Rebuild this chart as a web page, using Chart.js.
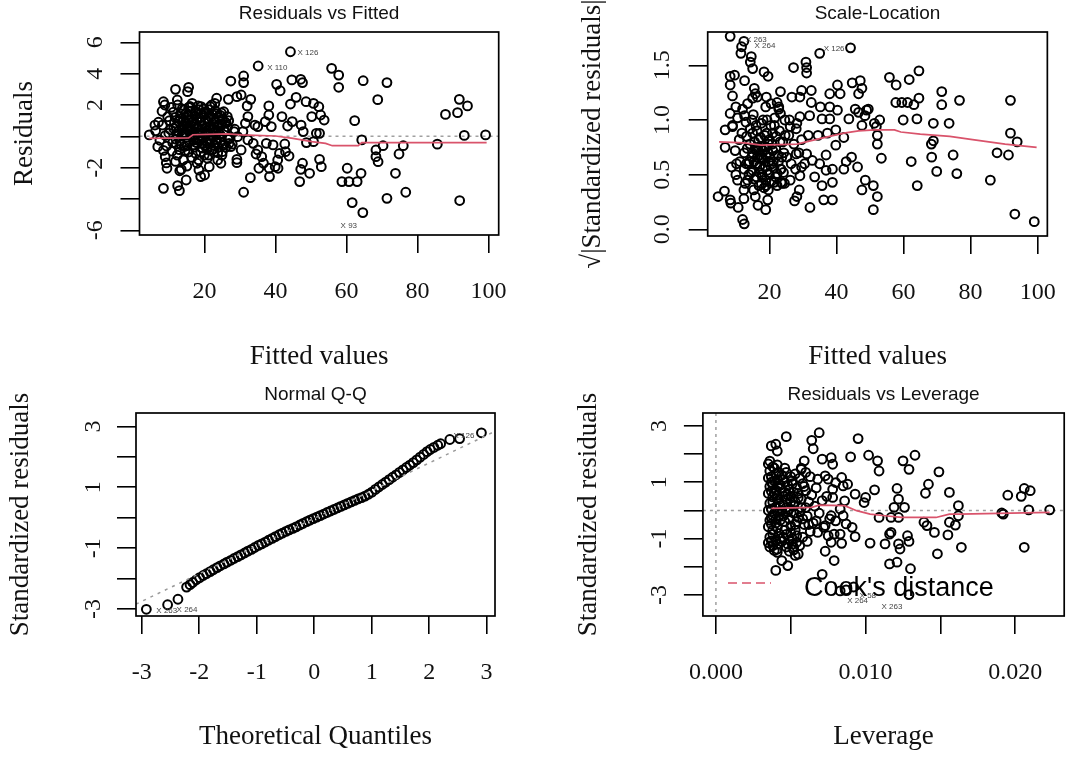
<!DOCTYPE html>
<html>
<head>
<meta charset="utf-8">
<script src="https://cdn.jsdelivr.net/npm/chart.js@4.4.0/dist/chart.umd.min.js"></script>
<style>
  body { margin: 0; background: #fff; width: 1080px; height: 758px; overflow: hidden; position: relative; }
  canvas { position: absolute; }
</style>
</head>
<body>
<canvas id="rvf" width="540" height="380" style="left:0;top:0"></canvas>
<canvas id="sl" width="540" height="380" style="left:540px;top:0"></canvas>
<canvas id="qq" width="540" height="378" style="left:0;top:380px"></canvas>
<canvas id="rvl" width="540" height="378" style="left:540px;top:380px"></canvas>
<script>
// --- Residuals vs Fitted: [fitted, residual] ---
const rvfPoints = [
  [44.2,5.4],[35.1,4.49],[55.8,4.34],[57.8,3.91],[57.8,3.13],[64.7,3.55],[71.4,3.43],[68.8,2.34],[62.3,1.0],[64.3,-0.23],
  [85.6,-0.5],[87.9,1.4],[91.8,2.36],[91.3,1.51],[94.1,1.94],[93.2,0.06],[99.2,0.09],[91.9,-4.1],[71.4,-3.96],[76.7,-3.57],
  [73.8,-2.36],[74.8,-1.13],[76.0,-0.6],[70.3,-0.6],[68.3,-0.87],[68.3,-1.3],[68.9,-1.62],[60.2,-2.04],[58.7,-2.89],[60.7,-2.89],
  [63.0,-2.89],[64.1,-2.36],[61.6,-4.23],[64.6,-4.87],
  [31.0,3.85],[31.0,3.43],[27.4,3.53],[26.7,2.36],[29.1,2.53],[30.3,2.64],[33.0,2.36],[32.0,1.94],[32.2,1.26],[31.5,0.83],
  [30.8,0.30],[38.1,1.94],[38.1,1.36],[37.1,0.94],[38.8,0.62],[35.0,0.62],[34.2,0.72],[40.3,3.32],[41.3,2.91],[44.6,3.6],
  [47.1,3.64],[47.6,3.43],[45.8,2.49],[44.2,2.06],[48.6,2.21],[50.7,2.1],[52.2,1.89],[52.7,1.36],[53.7,1.04],[50.2,1.26],
  [47.2,0.72],[44.7,0.94],[43.4,0.66],[41.8,1.26],[47.8,0.30],[51.5,0.19],[52.4,0.19],[50.7,-0.34],[48.7,-0.40],[52.4,-1.47],
  [52.9,-1.94],[47.6,-1.72],[47.1,-2.11],[49.6,-2.36],[46.8,-2.89],[42.6,-0.49],[42.8,-0.98],[43.8,-1.26],[41.1,-1.09],[40.6,-1.51],
  [39.9,-1.94],[38.2,-2.04],[38.3,-2.57],[40.7,-2.04],[39.3,-0.55],[37.4,-0.45],[35.0,-0.87],[34.5,-1.13],[36.1,-1.3],[36.6,-1.72],
  [35.3,-2.04],[32.9,-2.64],[31.0,-3.57],[33.7,-0.45],[32.2,-0.23],[30.3,-0.87],[29.1,-1.47],[29.1,-1.68],[29.3,-0.02],[28.3,0.30],
  [26.9,-0.45],[27.4,-0.66],
  [4.4,0.09],[6.0,0.72],[6.8,-0.66],[8.4,2.21],[8.8,2.0],[8.4,-3.32],[9.4,-2.04],[8.9,-1.3],[11.8,3.0],[12.3,2.32],
  [15.5,3.13],[15.2,2.85],[12.4,-3.15],[12.9,-3.47],[14.8,-2.79],[13.4,-2.11],[16.0,1.89],[17.9,-1.72],[18.4,-2.15],[18.9,-2.57],
  [20.0,-2.47],[21.3,-1.94],[20.8,-1.4],[23.4,2.43],[22.9,2.1],[23.7,-1.51],[24.6,-1.72],[25.0,-0.98],[26.4,1.26],[25.4,1.57],
  [6.2,0.35],[7.4,-0.25],[8.1,0.72],[8.9,0.05],[9.6,1.25],[9.3,-0.62],[10.4,0.42],[10.8,-0.95],[11.2,1.55],[11.5,0.85],
  [11.9,-0.18],[12.3,-1.2],[12.6,0.3],[13.1,1.1],[13.4,-0.55],[13.8,0.65],[14.2,1.7],[14.5,-0.9],[14.9,0.1],[15.3,1.35],
  [15.6,-0.3],[16.0,0.55],[16.4,-1.35],[16.7,0.95],[17.1,-0.7],[17.4,1.6],[17.8,0.25],[18.1,-0.15],[18.5,1.15],[18.9,-1.0],
  [19.2,0.7],[19.6,-0.45],[20.0,1.45],[20.3,0.15],[20.7,-0.8],[21.1,0.9],[21.5,-0.25],[21.8,1.25],[22.2,0.45],[22.6,-0.6],
  [23.0,1.65],[23.4,0.2],[23.7,-1.05],[24.1,0.8],[24.6,-0.35],[25.0,1.1],[25.5,0.4],[26.0,-0.7],[26.5,0.6],[27.2,-0.1],
  [7.0,0.9],[8.4,-0.9],[9.9,0.2],[10.1,1.0],[11.0,-0.4],[12.0,0.6],[12.9,-0.85],[13.6,0.05],[14.0,-1.5],[14.7,0.8],
  [15.1,-0.6],[15.8,1.9],[16.2,0.1],[16.9,-0.25],[17.6,0.5],[18.3,-1.5],[18.7,0.95],[19.4,0.3],[19.9,-1.2],[20.5,0.6],
  [21.3,1.7],[21.9,-0.9],[22.4,0.05],[23.2,-0.4],[24.3,1.35],[24.9,-1.2],[25.8,0.9],[26.8,1.0],[27.8,-0.5],[28.5,0.45],
  [8.0,1.6],[10.6,1.85],[12.4,2.0],[9.2,-1.7],[11.8,-1.6],[22.0,2.0],[19.0,1.9],[16.5,2.1],[15.0,-1.9],[13.0,-2.2],
  [11.3,0.5],[11.7,1.2],[12.2,0.15],[12.7,0.95],[13.2,1.45],[13.6,0.4],[14.1,1.05],[14.4,0.25],[14.8,1.5],[15.2,0.7],
  [15.5,1.85],[15.9,0.3],[16.3,1.25],[16.6,-0.05],[17.0,0.75],[17.3,1.3],[17.7,-0.4],[18.0,0.6],[18.4,1.7],[18.8,0.2],
  [19.1,1.2],[19.5,-0.1],[19.9,0.85],[20.2,1.55],[20.6,0.35],[21.0,1.15],[21.4,-0.5],[21.7,0.65],[22.1,1.4],[22.5,0.25],
  [22.9,0.95],[23.3,-0.2],[23.6,0.55],[24.0,1.2],[24.4,0.1],[24.8,0.75],[25.2,-0.55],[25.6,0.3],[26.1,0.85],[26.6,-0.2],
  [12.0,-0.5],[13.0,-0.3],[14.3,-0.65],[15.5,-1.0],[16.8,-0.55],[17.5,-1.1],[18.6,-0.3],[19.3,-0.75],[20.4,-0.35],[21.2,-1.2],
  [22.3,-0.85],[23.9,-0.7],[24.2,-0.1],[13.7,1.75],[16.1,1.6],[18.2,1.95],[19.7,1.75],[21.6,1.9],[23.5,1.45],[17.2,0.05],
  [15.0,0.45],[20.9,0.2],[22.8,0.6],[14.6,0.9],[19.0,0.45],[14.0,0.15],[16.4,0.4],[18.9,1.45],[21.3,0.45],[23.9,0.35],
  [17.8,1.1],[20.1,-0.6],[15.7,1.05],[22.6,1.15],[24.7,1.5]
];
const rvfSmoothX = [4.4, 15.5, 16.7, 26.4, 30.3, 40.0, 44.9, 50.2, 54.1, 56.0, 63.3, 64.3, 99.5];
const rvfSmoothY = [-0.13, -0.1, 0.1, 0.15, 0.09, 0.02, -0.13, -0.34, -0.45, -0.6, -0.6, -0.4, -0.4];
const rvfMarkX = [44.2, 35.1, 64.6];
const rvfMarkY = [5.4, 4.49, -4.87];
const rvfMarkText = ['X 126', 'X 110', 'X 93'];

// --- Scale-Location: [fitted, sqrt|std residual|] ---
const slPoints = [
  [8.3,1.765],[12.4,1.72],[11.7,1.67],[11.5,1.61],[14.6,1.58],[14.3,1.53],[15.0,1.47],[18.4,1.44],[19.6,1.40],[8.3,1.40],
  [9.6,1.41],[8.3,1.32],[12.6,1.36],[9.0,1.22],[10.0,1.12],[8.3,1.06],[12.6,1.04],[15.5,1.29],[15.8,1.24],[15.0,1.20],
  [16.4,1.21],[19.1,1.21],[23.3,1.26],[22.3,1.16],[22.8,1.12],[26.7,1.21],[29.6,1.27],[32.5,1.27],[29.1,1.21],[27.2,1.48],
  [30.9,1.53],[31.1,1.48],[31.1,1.43],[35.0,1.61],[44.2,1.66],[32.5,1.16],[35.2,1.12],[38.0,1.24],[40.3,1.32],[41.1,1.24],
  [38.0,1.12],[40.3,1.09],[35.7,1.01],[38.0,1.01],[32.0,1.04],[29.1,1.03],[28.2,0.97],[26.2,0.94],[23.3,1.06],[44.7,1.34],
  [47.1,1.36],[46.6,1.24],[47.6,1.29],[45.6,1.10],[46.6,1.07],[49.0,1.09],[49.5,1.10],[48.5,1.04],[43.7,1.01],[47.6,0.95],
  [51.3,0.97],[52.9,1.00],[51.9,0.94],[52.2,0.86],[52.2,0.78],[53.4,0.65],[55.8,1.39],[57.8,1.32],[61.7,1.37],[64.6,1.45],
  [64.6,1.20],[57.7,1.16],[59.5,1.16],[61.2,1.16],[63.1,1.14],[59.9,1.00],[64.0,1.01],[62.3,0.62],[64.1,0.40],[71.4,1.26],
  [71.4,1.14],[76.7,1.18],[68.9,0.97],[73.6,0.97],[68.9,0.81],[68.3,0.78],[68.4,0.66],[69.9,0.53],[74.8,0.68],[75.9,0.51],
  [85.9,0.45],[87.9,0.70],[91.3,0.68],[91.9,1.18],[91.9,0.88],[93.9,0.80],[93.2,0.14],[99.0,0.07],[51.0,0.40],[48.6,0.45],
  [47.6,0.36],[52.2,0.30],[51.0,0.18],[46.3,0.57],[44.5,0.66],[42.9,0.62],[42.2,0.55],[38.8,0.43],[38.8,0.27],[36.2,0.27],
  [35.7,0.40],[36.9,0.54],[38.8,0.55],[36.9,0.68],[37.3,0.88],[39.8,0.91],[39.8,0.77],[42.2,0.84],[33.5,0.48],[32.1,0.20],
  [28.9,0.36],[28.2,0.30],[27.5,0.26],[29.1,0.49],[29.6,0.57],[28.0,0.69],[31.1,0.69],[32.8,0.63],[35.0,0.60],[31.6,0.86],
  [34.5,0.86],[24.5,0.42],[26.2,0.45],[23.5,0.43],[19.7,0.36],[18.9,0.18],[19.5,0.27],[16.6,0.22],[15.8,0.30],[12.4,0.28],
  [12.4,0.36],[12.0,0.09],[12.5,0.05],[10.7,0.20],[8.5,0.24],[8.3,0.27],[6.6,0.35],[4.7,0.30],[10.5,0.45],[10.2,0.60],
  [8.7,0.57],[13.1,0.60],[6.8,0.75],[6.8,0.91],[9.0,0.94],[15.0,0.54],[17.9,0.48],[19.0,0.40],[21.4,0.43],[22.3,0.51],
  [23.3,0.55],
  [9.0,0.95],[9.8,0.72],[10.5,1.02],[11.2,0.62],[11.8,0.88],[12.5,0.55],[13.0,0.98],[13.4,0.74],[13.9,0.5],[14.3,0.92],
  [14.8,0.66],[15.2,1.05],[15.6,0.8],[16.0,0.6],[16.3,0.9],[16.7,0.72],[17.0,0.52],[17.4,0.84],[17.8,0.65],[18.1,1.0],
  [18.5,0.76],[18.8,0.58],[19.2,0.88],[19.6,0.7],[20.0,0.5],[20.4,0.95],[20.8,0.78],[21.2,0.62],[21.6,1.02],[22.0,0.85],
  [22.5,0.68],[23.0,0.9],[23.5,0.55],[24.0,0.8],[24.6,1.0],[25.2,0.66],[25.8,0.86],[26.5,0.6],[27.3,0.78],[28.0,0.92],
  [28.8,0.7],[29.6,0.82],[30.5,0.6],[15.0,0.7],[16.5,0.75],[17.2,0.68],[18.0,0.72],[14.0,0.62],[19.8,0.62],[21.0,0.72],
  [12.0,1.1],[13.5,1.15],[11.0,0.82],[10.0,0.5],[22.8,1.1],[20.5,1.15],[18.9,1.12],[17.6,0.42],[19.0,0.45],[21.8,0.48],
  [23.8,0.42],[12.8,0.42],[15.5,0.46],[26.0,1.0],[27.8,0.55],[24.3,0.7],
  [12.5,0.7],[13.2,0.85],[13.8,0.6],[14.2,0.78],[14.6,0.52],[15.0,0.88],[15.4,0.62],[15.8,0.74],[16.1,0.48],[16.4,0.66],
  [16.8,0.82],[17.1,0.58],[17.5,0.76],[17.8,0.5],[18.2,0.64],[18.6,0.86],[19.0,0.68],[19.4,0.54],[19.7,0.78],[20.2,0.66],
  [20.6,0.44],[21.0,0.88],[21.4,0.56],[21.9,0.74],[22.3,0.4],[22.7,0.62],[23.2,0.8],[23.7,0.66],[24.2,0.52],[24.7,0.86],
  [16.0,0.95],[17.6,0.97],[19.3,1.0],[14.8,1.0],[16.9,0.4],[18.4,0.38],[20.0,0.82],[15.3,0.36],[13.5,0.45],[21.5,0.95],
  [17.0,0.65],[18.0,0.55],[19.0,0.75],[16.2,0.72],[20.8,0.6]
];
const slSmoothX = [5.0, 12.6, 17.5, 28.2, 35.0, 42.2, 46.6, 51.5, 57.3, 59.2, 65.0, 73.8, 80.6, 90.3, 99.7];
const slSmoothY = [0.80, 0.79, 0.77, 0.78, 0.83, 0.88, 0.90, 0.91, 0.91, 0.89, 0.87, 0.85, 0.82, 0.78, 0.75];
const slMarkX = [12.4, 11.7, 44.2];
const slMarkY = [1.72, 1.67, 1.66];
const slMarkText = ['X 263', 'X 264', 'X 126'];

// --- Normal Q-Q ---
const qqTheoretical = [-2.92,-2.55,-2.37,-2.22,-2.16,-2.113,-2.05,-1.993,-1.93,-1.874,-1.81,-1.754,-1.69,-1.634,-1.57,
  -1.514,-1.45,-1.394,-1.33,-1.274,-1.21,-1.154,-1.09,-1.034,-0.97,-0.914,-0.85,-0.794,-0.73,-0.674,-0.61,-0.555,-0.49,-0.435,
  -0.37,-0.315,-0.25,-0.195,-0.13,-0.075,-0.015,0.045,0.105,0.165,0.225,0.285,0.345,0.405,0.465,0.525,0.585,0.644,0.705,0.764,
  0.825,0.884,0.945,1.004,1.065,1.124,1.185,1.244,1.305,1.364,1.425,1.484,1.545,1.604,1.665,1.724,1.785,1.844,1.905,1.964,
  2.02,2.083,2.15,2.20,2.36,2.53,2.91];
const qqStdResid = [-3.01,-2.86,-2.68,-2.28,-2.20,-2.13,-2.04,-1.97,-1.90,-1.84,-1.77,-1.71,-1.64,-1.58,-1.52,
  -1.46,-1.40,-1.34,-1.28,-1.22,-1.16,-1.10,-1.04,-0.98,-0.91,-0.86,-0.80,-0.74,-0.68,-0.62,-0.56,-0.51,-0.45,-0.40,
  -0.35,-0.30,-0.24,-0.19,-0.13,-0.08,-0.03,0.02,0.07,0.12,0.17,0.22,0.27,0.32,0.37,0.42,0.47,0.52,0.57,0.62,
  0.66,0.71,0.77,0.84,0.93,1.01,1.09,1.17,1.25,1.33,1.41,1.49,1.57,1.65,1.73,1.81,1.90,1.99,2.08,2.17,
  2.24,2.31,2.38,2.43,2.57,2.60,2.79];
const qqLineX = [-3.10, 3.146];
const qqLineY = [-2.84, 2.84];
const qqMarkX = [-2.92, -2.55, 2.91];
const qqMarkY = [-3.01, -2.86, 2.79];
const qqMarkText = ['X 263', 'X 264', 'X 126'];

// --- Residuals vs Leverage: [leverage, std residual] ---
const rvlPoints = [
  [0.0040,-2.13],[0.0037,2.29],[0.0040,2.35],[0.0041,2.11],[0.0047,2.62],[0.0048,-1.96],[0.0044,-1.78],[0.0041,-1.49],[0.0053,-1.6],[0.0052,-1.31],
  [0.0054,-1.13],[0.0057,1.46],[0.0059,1.76],[0.0064,2.49],[0.0065,2.19],[0.0069,2.76],[0.0071,1.82],[0.0077,1.87],[0.0078,1.64],[0.0090,1.90],
  [0.0095,2.55],[0.0102,1.96],[0.0108,1.76],[0.0109,1.40],[0.0125,1.76],[0.0129,1.46],[0.0133,1.96],[0.0149,1.37],[0.0142,0.93],[0.0140,0.61],
  [0.0156,0.64],[0.0121,0.78],[0.0122,0.40],[0.0119,0.11],[0.0126,0.11],[0.0106,0.73],[0.0100,0.46],[0.0099,0.28],[0.0093,0.58],[0.0109,-0.25],
  [0.0117,-0.25],[0.0122,-0.25],[0.0139,-0.42],[0.0141,-0.54],[0.0146,-0.78],[0.0156,-0.42],[0.0160,-0.52],[0.0162,-0.19],[0.0162,0.17],[0.0155,-0.87],
  [0.0148,-1.54],[0.0164,-1.31],[0.0116,-0.84],[0.0117,-0.78],[0.0113,-1.19],[0.0122,-1.19],[0.0123,-1.37],[0.0128,-0.90],[0.0129,-1.10],[0.0121,-1.84],
  [0.0116,-1.90],[0.0130,-2.07],[0.0103,-1.16],[0.0093,-0.93],[0.0091,-0.60],[0.0087,-0.48],[0.0086,0.34],[0.0085,0.87],[0.0080,0.99],[0.0075,1.11],
  [0.0084,1.17],[0.0088,0.93],[0.0078,0.46],[0.0083,0.05],[0.0077,-0.19],[0.0080,-0.37],[0.0085,-0.19],[0.0073,-0.54],[0.0075,-0.90],[0.0079,-0.84],
  [0.0083,-0.84],[0.0077,-1.13],[0.0084,-1.17],[0.0073,-1.45],[0.0079,-1.78],[0.0071,-2.27],[0.0068,-0.78],[0.0067,-0.37],[0.0068,1.11],[0.0073,1.23],
  [0.0083,-2.86],[0.0087,-2.82],[0.0092,-2.72],[0.0129,-2.99],[0.0191,-0.09],[0.0192,-0.13],[0.0195,0.54],[0.0204,0.50],[0.0206,0.78],[0.0210,0.70],
  [0.0209,0.02],[0.0223,0.02],[0.0206,-1.31],
  [0.0035,1.65],[0.0038,1.55],[0.0041,1.62],[0.0036,1.4],[0.0040,1.3],[0.0035,1.15],[0.0039,1.05],[0.0042,0.95],[0.0036,0.85],[0.0040,0.72],
  [0.0035,0.6],[0.0038,0.48],[0.0042,0.38],[0.0036,0.25],[0.0040,0.12],[0.0035,0.0],[0.0039,-0.1],[0.0042,-0.22],[0.0036,-0.35],[0.0040,-0.45],
  [0.0035,-0.58],[0.0038,-0.7],[0.0042,-0.82],[0.0036,-0.95],[0.0040,-1.05],[0.0035,-1.15],[0.0038,-1.25],[0.0041,-1.38],[0.0037,-0.25],[0.0041,0.55],
  [0.0037,1.0],[0.0045,1.1],[0.0048,0.9],[0.0051,1.05],[0.0054,0.8],[0.0046,0.65],[0.0050,0.5],[0.0053,0.3],[0.0045,0.2],[0.0049,0.05],
  [0.0052,-0.1],[0.0055,-0.25],[0.0046,-0.4],[0.0050,-0.55],[0.0053,-0.7],[0.0047,-0.85],[0.0051,-1.0],[0.0054,-0.4],[0.0044,-1.1],[0.0048,-1.2],
  [0.0052,0.65],[0.0055,0.45],[0.0047,0.4],[0.0049,-0.3],[0.0043,0.9],[0.0056,1.15],[0.0058,0.95],[0.0060,0.7],[0.0062,0.3],[0.0057,0.1],
  [0.0061,-0.2],[0.0059,-0.5],[0.0063,-0.75],[0.0058,-0.95],[0.0064,0.55],[0.0066,0.15],[0.0065,-0.45],[0.0060,1.35],[0.0057,1.5],[0.0063,1.2],
  [0.0047,1.35],[0.0050,1.2],[0.0061,-1.1],[0.0056,-1.25],[0.0067,0.8],[0.0069,-0.1],[0.0071,0.35],[0.0072,-0.6],[0.0074,0.5],[0.0076,-0.3],
  [0.0078,0.75],
  [0.0036,1.75],[0.0039,1.5],[0.0042,1.35],[0.0037,1.2],[0.0041,1.1],[0.0038,0.92],[0.0043,0.78],[0.0037,0.68],[0.0041,0.42],[0.0038,0.3],
  [0.0043,0.18],[0.0037,0.05],[0.0041,-0.05],[0.0038,-0.18],[0.0043,-0.35],[0.0037,-0.48],[0.0041,-0.62],[0.0038,-0.85],[0.0043,-1.0],[0.0037,-1.08],
  [0.0041,-1.2],[0.0039,-1.42],[0.0036,-1.3],[0.0040,-0.3],[0.0039,0.6],[0.0044,1.25],[0.0046,1.0],[0.0045,0.5],[0.0047,0.1],[0.0045,-0.2],
  [0.0046,-0.7],[0.0045,-0.95],[0.0047,-1.3],[0.0049,0.75],[0.0050,0.3],[0.0048,-0.05],[0.0050,-0.8],[0.0049,-1.05],[0.0051,0.95],[0.0052,0.15],
  [0.0053,-0.5],[0.0051,-1.2],[0.0055,0.6],[0.0056,-0.05],[0.0054,-0.9],[0.0057,0.4],[0.0058,-0.3],[0.0060,0.1],[0.0059,0.85],[0.0062,-0.5],
  [0.0044,0.0],[0.0048,0.55],[0.0046,1.5],[0.0049,-1.45],[0.0053,1.3],[0.0052,-1.4],[0.0055,-1.55]
];
const rvlSmoothX = [0.0037, 0.0064, 0.0069, 0.0086, 0.0094, 0.0103, 0.0113, 0.0124, 0.0147, 0.0156, 0.0163, 0.0223];
const rvlSmoothY = [0.07, 0.11, 0.19, 0.17, -0.01, -0.13, -0.19, -0.25, -0.25, -0.13, -0.13, -0.07];
const rvlMarkX = [0.0083, 0.0092, 0.0129];
const rvlMarkY = [-2.86, -2.72, -2.99];
const rvlMarkText = ['X 264', 'X 58', 'X 263'];

// --- axis ticks ---
const fittedTicks = [20, 40, 60, 80, 100];
const fittedTickLabels = ['20', '40', '60', '80', '100'];
const residTicks = [-6, -4, -2, 0, 2, 4, 6];
const residTickLabels = ['-6', '', '-2', '', '2', '4', '6'];
const sqrtTicks = [0, 0.5, 1, 1.5];
const sqrtTickLabels = ['0.0', '0.5', '1.0', '1.5'];
const quantTicks = [-3, -2, -1, 0, 1, 2, 3];
const quantTickLabels = ['-3', '-2', '-1', '0', '1', '2', '3'];
const stdTicks = [-3, -2, -1, 0, 1, 2, 3];
const stdTickLabels = ['-3', '', '-1', '', '1', '', '3'];
const levTicks = [0, 0.005, 0.01, 0.015, 0.02];
const levTickLabels = ['0.000', '', '0.010', '', '0.020'];

const RED = '#d9536b';
const SERIF = 'Liberation Serif';
const SANS = 'Liberation Sans';

function toXY(xs, ys) { return xs.map((x, i) => ({ x: x, y: ys[i] })); }
function pairs(p) { return p.map(d => ({ x: d[0], y: d[1] })); }

function panelPlugin(cfg) {
  return {
    id: 'panel_' + cfg.id,
    beforeDatasetsDraw(chart) {
      const { ctx, chartArea: a, scales: { x, y } } = chart;
      ctx.save();
      ctx.strokeStyle = '#a0a0a0';
      ctx.lineWidth = 1.5;
      ctx.setLineDash([3, 4]);
      (cfg.hLines || []).forEach(v => {
        const py = y.getPixelForValue(v);
        ctx.beginPath(); ctx.moveTo(a.left, py); ctx.lineTo(a.right, py); ctx.stroke();
      });
      (cfg.vLines || []).forEach(v => {
        const px = x.getPixelForValue(v);
        ctx.beginPath(); ctx.moveTo(px, a.top); ctx.lineTo(px, a.bottom); ctx.stroke();
      });
      ctx.restore();
    },
    afterDraw(chart) {
      const { ctx, chartArea: a, scales: { x, y } } = chart;
      ctx.save();
      // box
      ctx.strokeStyle = '#000';
      ctx.lineWidth = 1.7;
      ctx.strokeRect(a.left, a.top, a.right - a.left, a.bottom - a.top);
      // title
      ctx.fillStyle = '#111';
      ctx.font = '19px "' + SANS + '"';
      ctx.textAlign = 'center';
      ctx.textBaseline = 'alphabetic';
      ctx.fillText(cfg.title, (a.left + a.right) / 2, cfg.titleY);
      // rotated y tick labels, R style
      ctx.font = '24px "' + SERIF + '"';
      cfg.yTicks.forEach((v, i) => {
        const t = cfg.yTickLabels[i];
        if (!t) return;
        ctx.save();
        ctx.translate(cfg.yLabelX, y.getPixelForValue(v));
        ctx.rotate(-Math.PI / 2);
        ctx.fillText(t, 0, 0);
        ctx.restore();
      });
      // point id labels
      ctx.font = '8px "' + SANS + '"';
      ctx.fillStyle = '#444';
      ctx.textBaseline = 'middle';
      cfg.markText.forEach((t, i) => {
        const o = cfg.markOffsets[i];
        ctx.textAlign = o[2];
        ctx.fillText(t, x.getPixelForValue(cfg.markX[i]) + o[0], y.getPixelForValue(cfg.markY[i]) + o[1]);
      });
      // Cook's distance legend
      if (cfg.cookLegend) {
        const L = cfg.cookLegend;
        ctx.strokeStyle = RED;
        ctx.lineWidth = 1.7;
        ctx.setLineDash([9, 5]);
        ctx.beginPath(); ctx.moveTo(L.x0, L.y); ctx.lineTo(L.x1, L.y); ctx.stroke();
        ctx.setLineDash([]);
        ctx.fillStyle = '#000';
        ctx.font = '27px "' + SANS + '"';
        ctx.textAlign = 'left';
        ctx.textBaseline = 'alphabetic';
        ctx.fillText("Cook's distance", L.tx, L.ty);
      }
      ctx.restore();
    }
  };
}

function makePanel(cfg) {
  const canvas = document.getElementById(cfg.id);
  const W = canvas.width, H = canvas.height, box = cfg.box;
  const datasets = [];
  (cfg.lines || []).forEach(l => datasets.push({
    data: l.data, showLine: true, borderColor: l.color, borderWidth: l.width || 1.7,
    borderDash: l.dash || [], pointRadius: 0, fill: false, tension: 0
  }));
  datasets.push({
    data: cfg.points, borderColor: '#000', backgroundColor: 'rgba(0,0,0,0)',
    borderWidth: 2, pointRadius: 4.4, pointHoverRadius: 4.4
  });
  return new Chart(canvas, {
    type: 'scatter',
    data: { datasets: datasets },
    options: {
      responsive: false,
      animation: false,
      events: [],
      layout: { padding: { left: 0, top: box.t, right: W - box.r, bottom: 0 } },
      plugins: { legend: { display: false }, tooltip: { enabled: false } },
      scales: {
        x: {
          type: 'linear', position: 'bottom', min: cfg.xMin, max: cfg.xMax,
          afterBuildTicks: s => { s.ticks = cfg.xTicks.map(v => ({ value: v })); },
          afterFit: s => { s.height = H - box.b; },
          ticks: {
            autoSkip: false, maxRotation: 0, minRotation: 0, padding: 24, color: '#111',
            font: { family: SERIF, size: 24 },
            callback: (v, i) => cfg.xTickLabels[i]
          },
          grid: { drawOnChartArea: false, drawTicks: true, tickLength: 18, color: '#000', lineWidth: 1.6 },
          border: { display: false },
          title: { display: true, text: cfg.xTitle, color: '#111', font: { family: SERIF, size: 27 },
                   padding: { top: 0, bottom: cfg.xTitlePad } }
        },
        y: {
          type: 'linear', position: 'left', min: cfg.yMin, max: cfg.yMax,
          afterBuildTicks: s => { s.ticks = cfg.yTicks.map(v => ({ value: v })); },
          afterFit: s => { s.width = box.l; },
          ticks: { display: false },
          grid: { drawOnChartArea: false, drawTicks: true, tickLength: 19, color: '#000', lineWidth: 1.6 },
          border: { display: false },
          title: { display: true, text: cfg.yTitle, color: '#111', font: { family: SERIF, size: 27 },
                   padding: { top: cfg.yTitlePad, bottom: 0 } }
        }
      }
    },
    plugins: [panelPlugin(cfg)]
  });
}

makePanel({
  id: 'rvf', box: { l: 139.5, r: 498.7, t: 32, b: 235 },
  xMin: 1.65, xMax: 102.9, yMin: -6.3, yMax: 6.66,
  xTicks: fittedTicks, xTickLabels: fittedTickLabels, yTicks: residTicks, yTickLabels: residTickLabels,
  xTitle: 'Fitted values', yTitle: 'Residuals', xTitlePad: 7, yTitlePad: 9,
  title: 'Residuals vs Fitted', titleY: 19, yLabelX: 102,
  points: pairs(rvfPoints),
  lines: [{ data: toXY(rvfSmoothX, rvfSmoothY), color: RED }],
  hLines: [0],
  markX: rvfMarkX, markY: rvfMarkY, markText: rvfMarkText,
  markOffsets: [[7, 1.5, 'left'], [9, 2, 'left'], [-14, 13.5, 'center']]
});

makePanel({
  id: 'sl', box: { l: 167.7, r: 527, t: 32, b: 236 },
  xMin: 1.6, xMax: 102.9, yMin: -0.061, yMax: 1.805,
  xTicks: fittedTicks, xTickLabels: fittedTickLabels, yTicks: sqrtTicks, yTickLabels: sqrtTickLabels,
  xTitle: 'Fitted values', yTitle: '\u221A|Standardized residuals|', xTitlePad: 7, yTitlePad: 37,
  title: 'Scale-Location', titleY: 19, yLabelX: 129,
  points: pairs(slPoints),
  lines: [{ data: toXY(slSmoothX, slSmoothY), color: RED }],
  markX: slMarkX, markY: slMarkY, markText: slMarkText,
  markOffsets: [[2, -1, 'left'], [13, -1, 'left'], [-6, 1, 'right']]
});

makePanel({
  id: 'qq', box: { l: 136, r: 495, t: 33, b: 236 },
  xMin: -3.10, xMax: 3.146, yMin: -3.23, yMax: 3.44,
  xTicks: quantTicks, xTickLabels: quantTickLabels, yTicks: stdTicks, yTickLabels: stdTickLabels,
  xTitle: 'Theoretical Quantiles', yTitle: 'Standardized residuals', xTitlePad: 5, yTitlePad: 5,
  title: 'Normal Q-Q', titleY: 20, yLabelX: 100,
  points: toXY(qqTheoretical, qqStdResid),
  lines: [{ data: toXY(qqLineX, qqLineY), color: '#9a9a9a', width: 1.5, dash: [3, 5] }],
  markX: qqMarkX, markY: qqMarkY, markText: qqMarkText,
  markOffsets: [[10, 1.5, 'left'], [9, 5, 'left'], [-7, 3, 'right']]
});

makePanel({
  id: 'rvl', box: { l: 162.9, r: 524.2, t: 33, b: 236 },
  xMin: -0.00087, xMax: 0.02327, yMin: -3.75, yMax: 3.46,
  xTicks: levTicks, xTickLabels: levTickLabels, yTicks: stdTicks, yTickLabels: stdTickLabels,
  xTitle: 'Leverage', yTitle: 'Standardized residuals', xTitlePad: 5, yTitlePad: 33,
  title: 'Residuals vs Leverage', titleY: 20, yLabelX: 126,
  points: pairs(rvlPoints),
  lines: [{ data: toXY(rvlSmoothX, rvlSmoothY), color: RED }],
  hLines: [0], vLines: [0],
  markX: rvlMarkX, markY: rvlMarkY, markText: rvlMarkText,
  markOffsets: [[7, 10, 'left'], [6, 9, 'left'], [-17, 12, 'center']],
  cookLegend: { x0: 188, x1: 231, y: 203, tx: 264, ty: 216 }
});
</script>
</body>
</html>
